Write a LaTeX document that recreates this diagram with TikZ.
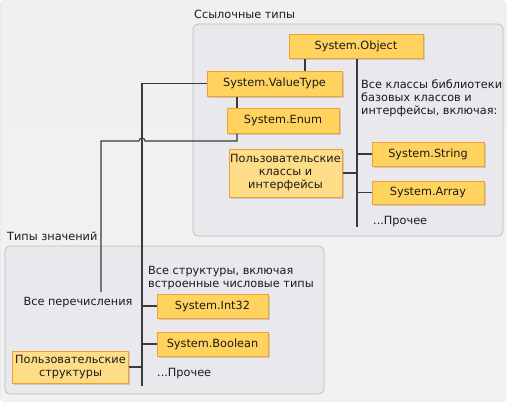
\documentclass[tikz,border=0pt]{standalone}
\usepackage{fontspec}
\setmainfont{DejaVu Sans}
\usetikzlibrary{shadows}
\definecolor{nodefill}{HTML}{FFD35E}
\definecolor{nodelite}{HTML}{FFDD88}
\definecolor{nodeedge}{HTML}{EFA030}
\definecolor{panelfill}{HTML}{E9E9ED}
\definecolor{paneledge}{HTML}{BDBDBD}
\definecolor{framec}{HTML}{E0E0E0}
\definecolor{linec}{HTML}{3A3A3A}
\definecolor{txt}{HTML}{1A1A1A}
\tikzset{
  box/.style={draw=nodeedge, fill=nodefill, line width=1bp, inner sep=0pt,
    align=center, text=txt,
    drop shadow={shadow xshift=1.5bp, shadow yshift=-1.5bp, opacity=0.3}},
  litebox/.style={box, fill=nodelite},
  panel/.style={draw=paneledge, fill=panelfill, rounded corners=5bp, line width=0.8bp},
  lbl/.style={inner sep=0pt, text=txt, align=left},
  conn/.style={draw=linec, line width=1.1bp},
}
\begin{document}
\begin{tikzpicture}[x=1bp, y=-1bp, font=\fontsize{11.3bp}{13bp}\selectfont]
\useasboundingbox (0,0) rectangle (507,402);
% outer frame
\shade[rounded corners=4bp, top color=black!6, middle color=white, bottom color=black!5]
  (0.5,0.5) rectangle (506.5,401.5);
\draw[framec, rounded corners=4bp] (0.5,0.5) rectangle (506.5,401.5);
% panels
\draw[panel] (193,24) rectangle (503,236);
\draw[panel] (5,246) rectangle (324,394);
\node[lbl, anchor=base west] (reftitle) at (194,18) {Ссылочные типы};
\node[lbl, anchor=base west] (valtitle) at (7,240) {Типы значений};

% lanes
\coordinate (xa) at (305,0);
\coordinate (xb) at (357,0);
\coordinate (xc) at (237,0);
\coordinate (xd) at (142,0);
\coordinate (xe) at (101,0);
\coordinate (hopy) at (0,141);
\coordinate (trunkend) at (357,227);
\coordinate (vtend) at (142,386);
\coordinate (enumend) at (101,292);

% nodes
\node[box, minimum width=134bp, minimum height=24bp] (obj) at (356,46) {System.Object};
\node[box, minimum width=135bp, minimum height=25bp] (vt) at (274.5,83.5) {System.ValueType};
\node[box, minimum width=112bp, minimum height=25bp] (enum) at (283,120.5) {System.Enum};
\node[litebox, minimum width=113bp, minimum height=48bp] (ucls) at (285.5,173) {Пользовательские\\классы и\\интерфейсы};
\node[box, minimum width=112bp, minimum height=24bp] (str) at (428,154) {System.String};
\node[box, minimum width=112bp, minimum height=23bp] (arr) at (428,192.5) {System.Array};
\node[box, minimum width=111bp, minimum height=24bp] (int) at (212.5,306) {System.Int32};
\node[box, minimum width=111bp, minimum height=24bp] (bool) at (212.5,344) {System.Boolean};
\node[litebox, minimum width=115bp, minimum height=32bp] (ustr) at (70.5,367) {Пользовательские\\структуры};

\node[lbl, anchor=north west] (allcls) at (361,80) {Все классы библиотеки\\базовых классов и\\интерфейсы, включая:};
\node[lbl, anchor=west] (othertop) at (373,222) {...Прочее};
\node[lbl, anchor=north west] (allstr) at (148,266) {Все структуры, включая\\встроенные числовые типы};
\node[lbl] (allenum) at (78,303) {Все перечисления};
\node[lbl, anchor=west] (otherbot) at (157,374) {...Прочее};

% connectors
\draw[conn] (obj.south -| xa) -- (vt.north -| xa);
\draw[conn] (obj.south -| xb) -- (trunkend);
\draw[conn] (vt.south -| xc) -- (enum.north -| xc);
\draw[conn] (enum.south -| xc) -- (xc |- hopy) -- ([xshift=3bp]xd |- hopy)
  arc[start angle=0, end angle=-180, radius=3] -- (xe |- hopy) -- (enumend);
\draw[conn] (vt.west) -- (vt.west -| xd) -- (vtend);
\draw[conn] (ucls.east) -- (ucls.east -| xb);
\draw[conn] (str.west -| xb) -- (str.west);
\draw[conn] (arr.west -| xb) -- (arr.west);
\draw[conn] (int.west -| xd) -- (int.west);
\draw[conn] (bool.west -| xd) -- (bool.west);
\draw[conn] (ustr.east) -- (ustr.east -| xd);
\end{tikzpicture}
\end{document}
